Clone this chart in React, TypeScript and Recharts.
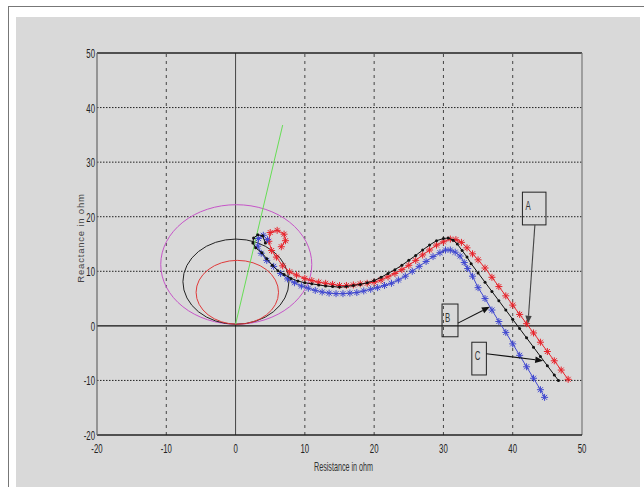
import { ScatterChart, Scatter, XAxis, YAxis, ReferenceLine } from 'recharts';

// axis ticks
const xTicks = [-20, -10, 0, 10, 20, 30, 40, 50];
const yTicks = [-20, -10, 0, 10, 20, 30, 40, 50];
const xGrid = [-10, 10, 20, 30, 40];
const yGrid = [-10, 10, 20, 30, 40];

// impedance trajectory A (red)
const curveA = [
    { x: 6.6, y: 14.5 }, { x: 7.2, y: 15.6 }, { x: 7.0, y: 16.8 }, { x: 6.0, y: 17.5 },
    { x: 5.0, y: 17.1 }, { x: 4.8, y: 15.5 }, { x: 5.2, y: 13.8 }, { x: 5.9, y: 12.6 },
    { x: 6.8, y: 11.0 }, { x: 7.8, y: 9.9 }, { x: 8.8, y: 9.3 }, { x: 10, y: 8.7 },
    { x: 11, y: 8.3 }, { x: 12, y: 8.0 }, { x: 13, y: 7.8 }, { x: 14, y: 7.6 },
    { x: 15, y: 7.4 }, { x: 16, y: 7.4 }, { x: 17, y: 7.5 }, { x: 18, y: 7.7 },
    { x: 19, y: 7.8 }, { x: 20, y: 8.0 }, { x: 21, y: 8.4 }, { x: 22, y: 9.0 },
    { x: 23, y: 9.6 }, { x: 24, y: 10.3 }, { x: 25, y: 11.1 }, { x: 26, y: 12.0 },
    { x: 27, y: 13.0 }, { x: 28, y: 13.9 }, { x: 29, y: 14.8 }, { x: 30, y: 15.4 },
    { x: 31, y: 15.9 }, { x: 31.8, y: 15.8 }, { x: 32.6, y: 15.3 }, { x: 33.4, y: 14.3 },
    { x: 34.2, y: 13.2 }, { x: 35, y: 12.1 }, { x: 36, y: 10.6 }, { x: 37, y: 8.9 },
    { x: 38, y: 7.2 }, { x: 39, y: 5.5 }, { x: 40, y: 3.8 }, { x: 41, y: 2.1 },
    { x: 42, y: 0.4 }, { x: 43, y: -1.3 }, { x: 44, y: -3.0 }, { x: 45, y: -4.7 },
    { x: 46, y: -6.4 }, { x: 47, y: -8.1 }, { x: 48, y: -9.8 },
];

// impedance trajectory B (blue)
const curveB = [
    { x: 4.6, y: 15.8 }, { x: 4.0, y: 16.6 }, { x: 3.3, y: 16.0 }, { x: 3.2, y: 14.6 },
    { x: 3.7, y: 13.3 }, { x: 4.5, y: 12.0 }, { x: 5.5, y: 10.9 }, { x: 6.5, y: 9.6 },
    { x: 7.5, y: 8.6 }, { x: 8.5, y: 7.9 }, { x: 9.5, y: 7.3 }, { x: 10.5, y: 6.9 },
    { x: 11.5, y: 6.5 }, { x: 12.5, y: 6.2 }, { x: 13.5, y: 6.0 }, { x: 14.5, y: 5.9 },
    { x: 15.5, y: 5.9 }, { x: 16.5, y: 6.0 }, { x: 17.5, y: 6.1 }, { x: 18.5, y: 6.4 },
    { x: 19.5, y: 6.7 }, { x: 20.5, y: 7.0 }, { x: 21.5, y: 7.4 }, { x: 22.5, y: 7.8 },
    { x: 23.5, y: 8.4 }, { x: 24.5, y: 9.1 }, { x: 25.5, y: 10.0 }, { x: 26.5, y: 10.9 },
    { x: 27.5, y: 11.8 }, { x: 28.5, y: 12.7 }, { x: 29.5, y: 13.4 }, { x: 30.3, y: 13.9 },
    { x: 31, y: 13.9 }, { x: 31.7, y: 13.5 }, { x: 32.4, y: 12.8 }, { x: 33, y: 11.6 },
    { x: 33.5, y: 10.5 }, { x: 34.2, y: 9.1 }, { x: 35, y: 7.0 }, { x: 36, y: 5.0 },
    { x: 37, y: 2.9 }, { x: 38, y: 0.8 }, { x: 39, y: -1.2 }, { x: 40, y: -3.3 },
    { x: 41, y: -5.4 }, { x: 42, y: -7.5 }, { x: 43, y: -9.6 }, { x: 44, y: -11.7 },
    { x: 44.6, y: -13.1 },
];

// impedance trajectory C (black)
const curveC = [
    { x: 4.3, y: 15.2 }, { x: 3.9, y: 16.5 }, { x: 3.2, y: 16.7 }, { x: 2.6, y: 16.1 },
    { x: 2.5, y: 15.2 }, { x: 2.9, y: 14.3 }, { x: 3.8, y: 13.4 }, { x: 4.5, y: 12.3 },
    { x: 5.3, y: 11.1 }, { x: 6.1, y: 10.1 }, { x: 7, y: 9.4 }, { x: 8, y: 8.7 },
    { x: 9, y: 8.2 }, { x: 10, y: 7.9 }, { x: 11, y: 7.7 }, { x: 12, y: 7.5 },
    { x: 13, y: 7.3 }, { x: 14, y: 7.2 }, { x: 15, y: 7.1 }, { x: 16, y: 7.2 },
    { x: 17, y: 7.4 }, { x: 18, y: 7.6 }, { x: 19, y: 7.9 }, { x: 20, y: 8.3 },
    { x: 21, y: 8.9 }, { x: 22, y: 9.6 }, { x: 23, y: 10.3 }, { x: 24, y: 11.1 },
    { x: 25, y: 12.0 }, { x: 26, y: 12.9 }, { x: 27, y: 13.9 }, { x: 28, y: 14.8 },
    { x: 29, y: 15.6 }, { x: 30, y: 16.0 }, { x: 30.7, y: 16.1 }, { x: 31.4, y: 15.7 },
    { x: 32, y: 15.0 }, { x: 32.7, y: 13.8 }, { x: 33.4, y: 12.6 }, { x: 34, y: 11.4 },
    { x: 35, y: 9.7 }, { x: 36, y: 8.0 }, { x: 37, y: 6.3 }, { x: 38, y: 4.6 },
    { x: 39, y: 2.9 }, { x: 40, y: 1.2 }, { x: 41, y: -0.5 }, { x: 42, y: -2.2 },
    { x: 43, y: -3.9 }, { x: 44, y: -5.6 }, { x: 45, y: -7.3 }, { x: 46, y: -9.0 },
    { x: 46.6, y: -10.0 },
];

// relay characteristic circles: left, right, top, bottom extremes
const magentaCircle = [{ x: -10.8, y: 11.2 }, { x: 11, y: 11.2 }, { x: 0.1, y: 22.2 }, { x: 0.1, y: 0.3 }];
const blackCircle = [{ x: -7.6, y: 8.1 }, { x: 7.7, y: 8.1 }, { x: 0, y: 15.9 }, { x: 0, y: 0.3 }];
const redCircle = [{ x: -5.7, y: 6.1 }, { x: 6.2, y: 6.1 }, { x: 0.2, y: 12.0 }, { x: 0.2, y: 0.3 }];

// line impedance angle
const greenLine = [{ x: 0, y: 0.3 }, { x: 6.8, y: 36.8 }];

// annotation boxes (top-left, bottom-right) and arrows (from, tip)
const boxA = [{ x: 41.4, y: 24.5 }, { x: 44.8, y: 18.5 }];
const boxB = [{ x: 29.8, y: 4.0 }, { x: 32.1, y: -2.0 }];
const boxC = [{ x: 34.1, y: -3.0 }, { x: 36.2, y: -9.0 }];
const arrowA = [{ x: 43.2, y: 18.5 }, { x: 42.2, y: 0.4 }];
const arrowB = [{ x: 32.1, y: 0.5 }, { x: 36.7, y: 3.5 }];
const arrowC = [{ x: 36.2, y: -5.1 }, { x: 44.4, y: -6.4 }];

const RED = '#e8232b';
const BLUE = '#4048d0';
const BLACK = '#111111';
const FONT = '"Liberation Sans", "DejaVu Sans", sans-serif';
const SQUEEZE = 0.6; // condensed look of the old MATLAB figure font

const hidden = () => <g />;

const star = (color: string) => (props: any) => {
    const { cx, cy } = props;
    const s = 3.5;
    const d = 2.5;
    return (
        <g stroke={color} strokeWidth={1}>
            <line x1={cx - s} y1={cy} x2={cx + s} y2={cy} />
            <line x1={cx} y1={cy - s} x2={cx} y2={cy + s} />
            <line x1={cx - d} y1={cy - d} x2={cx + d} y2={cy + d} />
            <line x1={cx - d} y1={cy + d} x2={cx + d} y2={cy - d} />
        </g>
    );
};

const dot = (props: any) => <circle cx={props.cx} cy={props.cy} r={1.5} fill={BLACK} />;

const ellipse = (color: string) => (props: any) => {
    const p = props.points;
    if (!p || p.length < 4) return <g />;
    const cx = (p[0].x + p[1].x) / 2;
    const cy = (p[2].y + p[3].y) / 2;
    return (
        <ellipse cx={cx} cy={cy} rx={Math.abs(p[1].x - p[0].x) / 2} ry={Math.abs(p[3].y - p[2].y) / 2}
            fill="none" stroke={color} strokeWidth={1} />
    );
};

// narrow text helper
const Narrow = ({ x, y, anchor, size, children, fill = '#222' }: any) => (
    <text transform={`translate(${x}, ${y}) scale(${SQUEEZE}, 1)`} x={0} y={0} textAnchor={anchor}
        fontSize={size} fontFamily={FONT} fill={fill}>
        {children}
    </text>
);

const box = (label: string) => (props: any) => {
    const p = props.points;
    if (!p || p.length < 2) return <g />;
    return (
        <g>
            <rect x={p[0].x} y={p[0].y} width={p[1].x - p[0].x} height={p[1].y - p[0].y}
                fill="none" stroke="#222" strokeWidth={1} />
            <Narrow x={p[0].x + 3} y={p[0].y + 18} anchor="start" size={13} fill="#333">{label}</Narrow>
        </g>
    );
};

const arrow = (color: string) => (props: any) => {
    const p = props.points;
    if (!p || p.length < 2) return <g />;
    const [a, b] = p;
    const ang = Math.atan2(b.y - a.y, b.x - a.x);
    const len = 8;
    const w = 3.2;
    const bx = b.x - len * Math.cos(ang);
    const by = b.y - len * Math.sin(ang);
    const nx = -Math.sin(ang) * w;
    const ny = Math.cos(ang) * w;
    return (
        <g>
            <line x1={a.x} y1={a.y} x2={bx} y2={by} stroke={color} strokeWidth={1.1} />
            <polygon points={`${b.x},${b.y} ${bx + nx},${by + ny} ${bx - nx},${by - ny}`} fill={color} />
        </g>
    );
};

const XTick = (props: any) => (
    <Narrow x={props.x} y={props.y + 10} anchor="middle" size={13}>{props.payload.value}</Narrow>
);

const YTick = (props: any) => (
    <Narrow x={props.x + 6} y={props.y + 5} anchor="end" size={13}>{props.payload.value}</Narrow>
);

const YLabel = (props: any) => {
    const vb = props.viewBox;
    const x = vb.x + 27;
    const y = vb.y + vb.height / 2 - 6;
    return (
        <text x={x} y={y} transform={`rotate(-90, ${x}, ${y})`} textAnchor="middle" fontSize={9.5}
            fontFamily={FONT} letterSpacing={0.8} fill="#444">
            Reactance in ohm
        </text>
    );
};

const XLabel = (props: any) => {
    const vb = props.viewBox;
    return (
        <Narrow x={vb.x + vb.width / 2 + 4} y={vb.y + 36} anchor="middle" size={12} fill="#333">
            Resistance in ohm
        </Narrow>
    );
};

export default function App() {
    return (
        <div style={{ position: 'absolute', left: 0, top: 0, width: 644, height: 487, background: '#fff', overflow: 'hidden' }}>
            <div style={{ position: 'absolute', left: 8, top: 6, right: 0, bottom: 0, borderTop: '1.5px solid #777', borderLeft: '1.5px solid #777' }} />
            <div style={{ position: 'absolute', left: 16, top: 17, width: 624, height: 470, background: '#d9d9d9' }} />
            <div style={{ position: 'absolute', left: 0, top: 0 }}>
                <ScatterChart width={644} height={487} margin={{ top: 53, right: 62, bottom: 14, left: 57 }}>
                    <XAxis type="number" dataKey="x" domain={[-20, 50]} ticks={xTicks} interval={0}
                        height={38} axisLine={{ stroke: '#222', strokeWidth: 1.5 }} tickLine={false}
                        tick={<XTick />} label={<XLabel />} />
                    <YAxis type="number" dataKey="y" domain={[-20, 50]} ticks={yTicks} interval={0}
                        width={40} axisLine={{ stroke: '#666', strokeWidth: 1.2 }} tickLine={false}
                        tick={<YTick />} label={<YLabel />} />
                    {xGrid.map((v) => (
                        <ReferenceLine key={`vx${v}`} x={v} stroke="#444" strokeDasharray="3 4" strokeWidth={1} />
                    ))}
                    {yGrid.map((v) => (
                        <ReferenceLine key={`hy${v}`} y={v} stroke="#222" strokeDasharray="1.5 1.5" strokeWidth={1} />
                    ))}
                    <ReferenceLine x={0} stroke="#444" strokeWidth={1} />
                    <ReferenceLine y={0} stroke="#111" strokeWidth={1.2} />
                    <ReferenceLine y={50} stroke="#222" strokeWidth={1.5} />
                    <ReferenceLine x={50} stroke="#777" strokeWidth={1.2} />

                    <Scatter data={magentaCircle} shape={hidden} line={ellipse('#c655c8')} isAnimationActive={false} />
                    <Scatter data={blackCircle} shape={hidden} line={ellipse('#222')} isAnimationActive={false} />
                    <Scatter data={redCircle} shape={hidden} line={ellipse('#e03a3a')} isAnimationActive={false} />
                    <Scatter data={greenLine} shape={hidden} line={{ stroke: '#66dd55', strokeWidth: 1 }}
                        lineJointType="linear" isAnimationActive={false} />

                    <Scatter data={curveA} fill={RED} shape={star(RED)} line={{ stroke: RED, strokeWidth: 1 }}
                        lineJointType="linear" isAnimationActive={false} />
                    <Scatter data={curveB} fill={BLUE} shape={star(BLUE)} line={{ stroke: BLUE, strokeWidth: 1 }}
                        lineJointType="linear" isAnimationActive={false} />
                    <Scatter data={curveC} fill={BLACK} shape={dot} line={{ stroke: BLACK, strokeWidth: 1 }}
                        lineJointType="linear" isAnimationActive={false} />

                    <Scatter data={boxA} shape={hidden} line={box('A')} isAnimationActive={false} />
                    <Scatter data={boxB} shape={hidden} line={box('B')} isAnimationActive={false} />
                    <Scatter data={boxC} shape={hidden} line={box('C')} isAnimationActive={false} />
                    <Scatter data={arrowA} shape={hidden} line={arrow('#444')} isAnimationActive={false} />
                    <Scatter data={arrowB} shape={hidden} line={arrow('#111')} isAnimationActive={false} />
                    <Scatter data={arrowC} shape={hidden} line={arrow('#111')} isAnimationActive={false} />
                </ScatterChart>
            </div>
        </div>
    );
}
